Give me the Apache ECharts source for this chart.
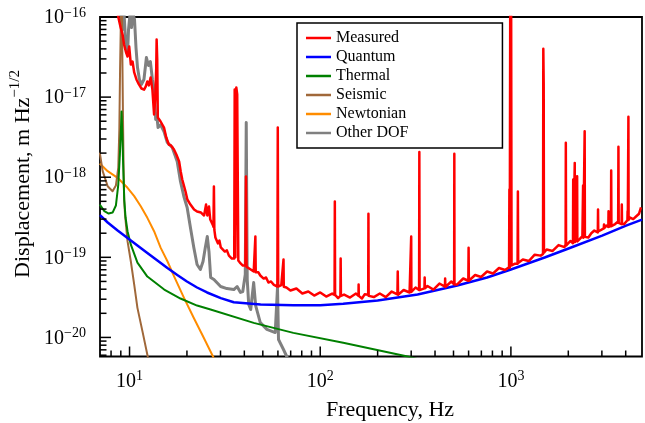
<!DOCTYPE html>
<html>
<head>
<meta charset="utf-8">
<script src="https://cdn.jsdelivr.net/npm/echarts@6/dist/echarts.min.js"></script>
<style>html,body{margin:0;padding:0;background:#fff}#c{width:645px;height:423px}</style>
</head>
<body>
<div id="c"></div>
<script>
// ---- data ----
const measuredFreq = [8.56,8.73,8.98,9.19,9.36,9.56,9.76,9.96,10.16,10.37,10.58,10.87,11.2,11.55,11.92,12.17,12.4,12.63,12.9,13.18,13.45,13.62,13.8,13.87,13.97,14.07,14.55,15.16,15.58,16.07,16.5,17.1,17.6,18.2,18.55,18.9,19.66,20.1,20.86,21.8,22.6,23.7,24.6,25.2,25.57,26.1,26.5,27.3,27.55,27.7,27.85,28.2,29.1,29.6,30.1,30.8,31.6,32.4,33.2,34.4,35.4,35.6,35.9,36.3,36.7,37.2,37.9,38.6,39.3,40.5,40.8,41.1,41.8,43.2,44.0,44.8,45.5,45.7,45.9,46.4,47.4,48.5,49.5,50.5,52.0,53.5,55.2,56.9,58.2,59.6,59.9,60.2,62.5,64.0,64.2,64.4,66.5,69.8,75.0,80.6,86.6,93.0,100,107.5,115.5,118.9,119.3,119.7,124.1,127.6,128,128.4,133.4,143.3,154.0,158.7,159,159.3,165.5,171,178.5,179,179.5,191.1,205.4,220.7,237.1,254,255,256,273.8,294.2,299.3,300,300.7,316.2,330,331,332,339.8,352,353,354,365.2,392.4,421.7,451,452,453.2,487.0,504,505,506,523.3,562.3,598,600,602,649.4,697.9,749.9,805.9,866.0,930.6,978,982,986,992,997,1003,1008,1045,1084,1088,1092,1154.8,1241,1333.5,1433,1474,1479,1486,1491,1540,1655,1778,1911,1936,1941,1947,2054,2116,2122,2128,2156,2162,2168,2207,2225,2231,2300,2371,2391,2398,2431,2437,2444,2548,2640,2738,2856,2864,2872,2942,3070,3078,3086,3162,3243,3251,3259,3348,3357,3366,3398,3520,3652,3664,3676,3806,3816,3826,3924,4083,4093,4103,4123,4133,4143,4217,4380,4532,4700,4812];
const measuredVal = [1.43e-16,1.0e-16,7.4e-17,6.05e-17,4.54e-17,3.71e-17,3.21e-17,4.28e-17,2.55e-17,2.78e-17,2.03e-17,1.66e-17,1.44e-17,1.28e-17,1.24e-17,1.36e-17,1.57e-17,1.40e-17,1.76e-17,1.24e-17,6.07e-18,9.33e-18,2.21e-17,5.24e-17,2.95e-17,5.56e-18,4.96e-18,4.17e-18,3.13e-18,2.56e-18,2.49e-18,2.22e-18,1.92e-18,1.57e-18,1.18e-18,9.36e-19,6.63e-19,5.27e-19,4.56e-19,3.95e-19,3.73e-19,3.62e-19,3.33e-19,4.56e-19,3.33e-19,4.31e-19,2.96e-19,2.56e-19,2.4e-19,7.65e-19,2.2e-19,1.77e-19,1.49e-19,1.62e-19,1.33e-19,1.40e-19,1.18e-19,1.22e-19,1.05e-19,9.66e-20,9.66e-20,1.24e-17,1.0e-19,1.32e-17,1.08e-17,9.12e-20,8.6e-20,9.0e-20,7.9e-20,7.9e-20,1.02e-18,7.6e-20,7.9e-20,7.05e-20,7.3e-20,6.65e-20,6.7e-20,1.82e-19,6.5e-20,6.28e-20,6.5e-20,5.93e-20,6.1e-20,5.43e-20,5.6e-20,4.84e-20,5.0e-20,4.57e-20,4.7e-20,4.32e-20,4.17e-18,4.32e-20,4.5e-20,4.4e-20,9.4e-20,4.3e-20,4.2e-20,3.85e-20,4.08e-20,3.53e-20,3.74e-20,3.33e-20,3.64e-20,3.24e-20,3.53e-20,3.4e-20,4.97e-19,3.4e-20,3.10e-20,3.3e-20,9.66e-20,3.3e-20,3.43e-20,3.15e-20,3.53e-20,3.3e-20,4.57e-20,3.3e-20,3.06e-20,3.45e-20,3.4e-20,3.49e-19,3.3e-20,3.19e-20,3.53e-20,3.19e-20,3.74e-20,3.45e-20,6.65e-20,3.4e-20,3.91e-20,3.64e-20,3.7e-20,1.82e-19,3.7e-20,4.20e-20,3.9e-20,2.07e-18,3.9e-20,3.85e-20,4.1e-20,5.6e-20,4.1e-20,4.38e-20,3.96e-20,4.71e-20,4.3e-20,5.43e-20,4.26e-20,4.99e-20,4.6e-20,1.96e-18,4.6e-20,4.58e-20,5.44e-20,5.1e-20,1.32e-19,5.1e-20,6.01e-20,5.68e-20,6.65e-20,6.28e-20,7.35e-20,6.94e-20,7.5e-20,7.02e-19,7.4e-20,1.5e-16,8.0e-20,1.5e-16,7.9e-20,8.3e-20,8.3e-20,6.63e-19,8.5e-20,9.39e-20,8.99e-20,1.08e-19,1.05e-19,1.1e-19,4.01e-17,1.44e-17,1.14e-19,1.25e-19,1.20e-19,1.42e-19,1.34e-19,1.45e-19,2.69e-18,1.4e-19,1.60e-19,1.5e-19,9.36e-19,1.55e-19,1.5e-19,1.51e-18,1.55e-19,1.53e-19,1.03e-18,1.58e-19,1.7e-19,1.84e-19,7.87e-19,1.75e-19,1.8e-19,3.75e-18,1.8e-19,1.77e-19,2.0e-19,2.16e-19,2.05e-19,3.95e-19,2.1e-19,2.07e-19,2.3e-19,2.56e-19,2.3e-19,2.49e-19,2.4e-19,3.77e-19,2.4e-19,2.45e-19,1.21e-18,2.45e-19,2.36e-19,2.6e-19,2.80e-19,2.40e-18,2.7e-19,2.6e-19,4.56e-19,2.6e-19,2.60e-19,2.9e-19,3.77e-19,2.9e-19,2.95e-19,5.68e-18,2.95e-19,3.14e-19,3.0e-19,3.23e-19,3.5e-19,4.19e-19];

const quantumFreq = [7,7.68,8.66,9.76,11.0,12.4,14.0,15.8,17.8,20.0,22.6,25.5,30.1,35.2,48.7,72.3,100,132,200,324,523,750,1000,1503,2005,3010,4018,4870];
const quantumVal = [3.37e-19,2.72e-19,2.16e-19,1.74e-19,1.40e-19,1.13e-19,9.12e-20,7.35e-20,6.01e-20,4.99e-20,4.2e-20,3.64e-20,3.10e-20,2.75e-20,2.58e-20,2.52e-20,2.53e-20,2.63e-20,2.89e-20,3.43e-20,4.45e-20,5.6e-20,7.05e-20,9.94e-20,1.29e-19,1.87e-19,2.49e-19,2.96e-19];

const thermalFreq = [6.98,7.38,7.77,8.15,8.48,8.73,8.90,9.01,9.08,9.17,9.26,9.38,9.53,9.76,10.16,11.0,12.4,15.2,18.5,22.6,26.6,44.8,72.3,132,287,324];
const thermalVal = [4.56e-19,3.77e-19,3.52e-19,3.62e-19,4.43e-19,8.1e-19,1.92e-18,3.94e-18,6.6e-18,3.41e-18,1.44e-18,5.27e-19,3.14e-19,2.12e-19,1.44e-19,8.6e-20,5.75e-20,3.96e-20,3.06e-20,2.5e-20,2.23e-20,1.52e-20,1.14e-20,8.57e-21,5.78e-21,5.37e-21];

const seismicFreq = [6.98,7.23,7.68,8.15,8.48,8.73,8.84,8.92,9.08,9.23,9.31,9.38,9.47,9.76,10.16,10.58,11.0,11.69,12.45,13.0];
const seismicVal = [2.03e-18,1.19e-18,7.72e-19,6.68e-19,7.87e-19,1.32e-18,3.94e-18,2.21e-17,3e-16,7.0e-18,1.25e-18,5.01e-19,3.42e-19,1.59e-19,8.87e-20,4.57e-20,2.34e-20,1.19e-20,5.82e-21,3.98e-21];

const newtonianFreq = [6.98,7.68,8.66,9.76,10.58,11.45,12.4,13.45,14.55,15.8,17.1,19.3,21.7,24.5,27.4,29.4];
const newtonianVal = [1.48e-18,1.19e-18,9.83e-19,7.38e-19,5.8e-19,4.35e-19,3.11e-19,2.12e-19,1.32e-19,8.93e-20,5.81e-20,3.12e-20,1.76e-20,9.9e-21,5.78e-21,4.09e-21];

const otherFreq = [8.92,9.19,9.36,9.56,9.76,9.88,10.06,10.24,10.43,10.62,10.81,11.01,11.27,11.55,11.9,12.26,12.56,12.86,13.18,13.5,13.71,13.87,14.11,14.55,15.16,15.78,16.75,17.78,18.5,19.27,20.05,20.86,21.73,22.6,23.52,24.29,24.97,25.57,26.1,26.64,27.71,30.04,32.39,35.24,36.66,38.18,39.25,40.45,40.93,41.42,42.17,43.2,44.77,45.86,48.5,52.53,58.08,59.0,59.7,60.43,64.17,66.76,69.8];
const otherVal = [1.3e-16,7.0e-17,1.1e-16,4.5e-17,3.4e-17,7.0e-17,1.1e-16,7.4e-17,1.1e-16,9.3e-17,4.16e-17,2.34e-17,1.66e-17,1.44e-17,1.66e-17,3.12e-17,2.48e-17,2.78e-17,1.66e-17,1.24e-17,5.25e-18,6.2e-18,4.17e-18,4.5e-18,3.72e-18,2.71e-18,2.35e-18,1.57e-18,8.84e-19,5.74e-19,4.19e-19,2.36e-19,1.33e-19,8.13e-20,7.05e-20,8.87e-20,1.33e-19,1.82e-19,1.18e-19,5.6e-20,5.28e-20,4.32e-20,4.07e-20,3.96e-20,4.32e-20,3.64e-20,3.74e-20,6.1e-20,4.82e-18,5.28e-20,2.58e-20,2.23e-20,4.84e-20,2.5e-20,1.53e-20,1.26e-20,1.15e-20,1.15e-20,4.2e-20,9.42e-21,7.06e-21,5.78e-21,4.59e-21];

// axis ranges and tick positions
const X_MIN = 7, X_MAX = 4870;
const Y_MIN = 5.78e-21, Y_MAX = 1e-16;
const xMajorTicks = [10, 100, 1000];
const xMinorTicks = [8,9,20,30,40,50,60,70,80,90,200,300,400,500,600,700,800,900,2000,3000,4000];
const yMajorTicks = [1e-20, 1e-19, 1e-18, 1e-17, 1e-16];
const yMinorTicks = [6e-21,7e-21,8e-21,9e-21,
  2e-20,3e-20,4e-20,5e-20,6e-20,7e-20,8e-20,9e-20,
  2e-19,3e-19,4e-19,5e-19,6e-19,7e-19,8e-19,9e-19,
  2e-18,3e-18,4e-18,5e-18,6e-18,7e-18,8e-18,9e-18,
  2e-17,3e-17,4e-17,5e-17,6e-17,7e-17,8e-17,9e-17];
const seriesNames = ['Measured','Quantum','Thermal','Seismic','Newtonian','Other DOF'];

// ---- build ----
const FONT = '"Liberation Serif", "Times New Roman", serif';
const pairs = (f, v) => f.map((x, i) => [x, v[i]]);
const chart = echarts.init(document.getElementById('c'), null, {renderer: 'canvas'});

function supLabel(v) {
  const l = Math.log10(v);
  const e = Math.round(l);
  if (Math.abs(l - e) > 1e-6) return '';
  const s = e < 0 ? '\u2212' + (-e) : String(e);
  return '{b|10}{s|' + s + '}';
}
const labelRich = {
  b: {fontFamily: FONT, fontSize: 20, color: '#000', verticalAlign: 'bottom', lineHeight: 22},
  s: {fontFamily: FONT, fontSize: 14, color: '#000', verticalAlign: 'top', lineHeight: 14}
};

const xTickData = xMajorTicks.map(v => [v, Y_MIN, 1]).concat(xMinorTicks.map(v => [v, Y_MIN, 0]));
const yTickData = yMajorTicks.map(v => [X_MIN, v, 1]).concat(yMinorTicks.map(v => [X_MIN, v, 0]));

function lineSeries(name, data, color, width, z) {
  return {name, type: 'line', data, symbol: 'none', showSymbol: false, z,
    lineStyle: {color, width, join: 'round'}, itemStyle: {color}, clip: true, silent: true};
}

chart.setOption({
  animation: false,
  backgroundColor: '#fff',
  grid: {left: 100, right: -1, top: 17, bottom: 66.5, show: true, borderColor: '#000', borderWidth: 1.8, backgroundColor: 'transparent'},
  xAxis: {
    type: 'log', logBase: 10, min: X_MIN, max: X_MAX,
    axisLine: {show: false}, axisTick: {show: false}, splitLine: {show: false}, minorTick: {show: false},
    axisLabel: {margin: 13, formatter: supLabel, rich: labelRich, showMinLabel: true, showMaxLabel: true, hideOverlap: false}
  },
  yAxis: {
    type: 'log', logBase: 10, min: Y_MIN, max: Y_MAX,
    axisLine: {show: false}, axisTick: {show: false}, splitLine: {show: false}, minorTick: {show: false},
    axisLabel: {margin: 14, formatter: supLabel, rich: labelRich, showMinLabel: true, showMaxLabel: true, hideOverlap: false}
  },
  legend: {
    data: seriesNames, orient: 'vertical', left: 297, top: 23, icon: 'rect',
    itemWidth: 25, itemHeight: 2.5, itemGap: 3, padding: [7, 94, 7, 9],
    borderColor: '#000', borderWidth: 1.5, backgroundColor: '#fff', selectedMode: false,
    textStyle: {fontFamily: FONT, fontSize: 16, color: '#000', lineHeight: 16}
  },
  graphic: [
    {type: 'text', x: 390, y: 410, silent: true,
      style: {text: 'Frequency, Hz', fill: '#000', font: '22px ' + FONT, textAlign: 'center', textVerticalAlign: 'middle', align: 'center', verticalAlign: 'middle'}},
    {type: 'text', x: 21, y: 174, rotation: Math.PI / 2, silent: true,
      style: {text: '{a|Displacement, m Hz}{s|\u22121/2}', textAlign: 'center', textVerticalAlign: 'middle', align: 'center', verticalAlign: 'middle',
        rich: {a: {fontFamily: FONT, fontSize: 22, fill: '#000', color: '#000', verticalAlign: 'bottom', lineHeight: 26},
               s: {fontFamily: FONT, fontSize: 15, fill: '#000', color: '#000', verticalAlign: 'top', lineHeight: 15}}}}
  ],
  series: [
    lineSeries('Other DOF', pairs(otherFreq, otherVal), '#808080', 3, 2),
    lineSeries('Newtonian', pairs(newtonianFreq, newtonianVal), '#ff8c00', 2, 3),
    lineSeries('Seismic', pairs(seismicFreq, seismicVal), '#a0683a', 2, 3),
    lineSeries('Thermal', pairs(thermalFreq, thermalVal), '#008000', 2, 3),
    lineSeries('Quantum', pairs(quantumFreq, quantumVal), '#0000ff', 2.5, 4),
    lineSeries('Measured', pairs(measuredFreq, measuredVal), '#ff0000', 2.5, 5),
    {type: 'custom', name: 'xticks', data: xTickData, encode: {x: 0, y: 1}, z: 10, silent: true, clip: false,
      renderItem: function (params, api) {
        const p = api.coord([api.value(0), api.value(1)]);
        const len = api.value(2) ? 10 : 6;
        return {type: 'line', shape: {x1: p[0], y1: p[1], x2: p[0], y2: p[1] - len}, style: {stroke: '#000', lineWidth: 1.5}};
      }},
    {type: 'custom', name: 'yticks', data: yTickData, encode: {x: 0, y: 1}, z: 10, silent: true, clip: false,
      renderItem: function (params, api) {
        const p = api.coord([api.value(0), api.value(1)]);
        const len = api.value(2) ? 11 : 6.5;
        return {type: 'line', shape: {x1: p[0], y1: p[1], x2: p[0] + len, y2: p[1]}, style: {stroke: '#000', lineWidth: 1.5}};
      }}
  ]
});
</script>
</body>
</html>
